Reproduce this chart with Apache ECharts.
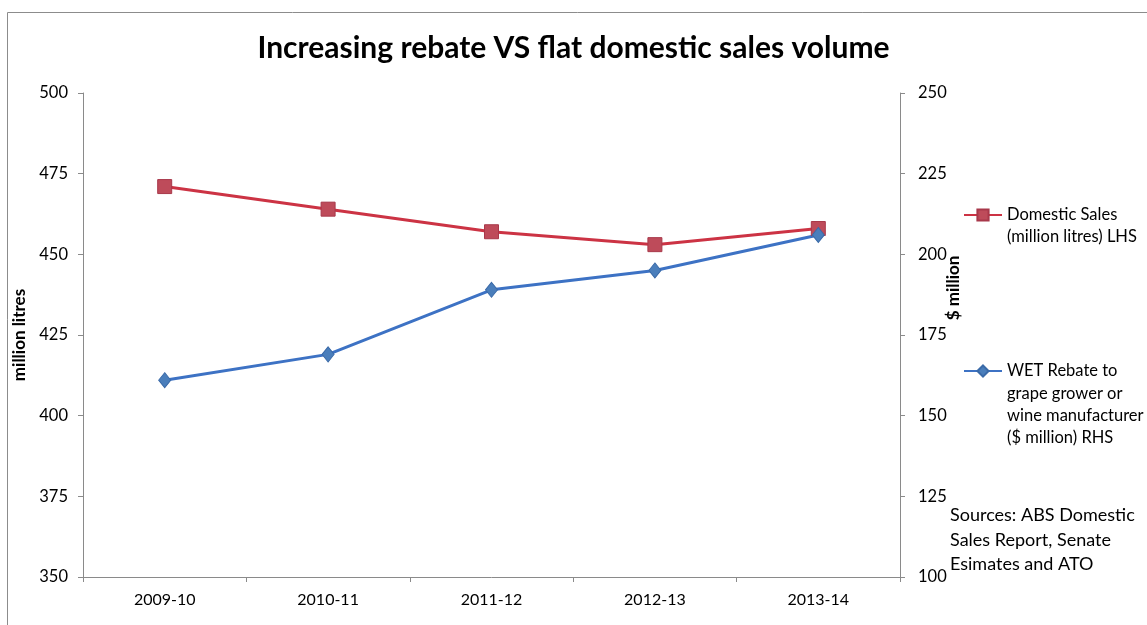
<!DOCTYPE html>
<html>
<head>
<meta charset="utf-8">
<script src="https://cdn.jsdelivr.net/npm/echarts@6/dist/echarts.min.js"></script>
<style>
  html, body { margin: 0; padding: 0; background: #fff; }
  #chart { width: 1147px; height: 625px; }
</style>
</head>
<body>
<div id="chart"></div>
<script>
  // data
  const years = ['2009-10', '2010-11', '2011-12', '2012-13', '2013-14']
  const domesticSales = [471, 464, 457, 453, 458]   // million litres, LHS
  const wetRebate = [161, 169, 189, 195, 206]       // $ million, RHS

  const salesName = 'Domestic Sales (million litres) LHS'
  const rebateName = 'WET Rebate to grape grower or wine manufacturer ($ million) RHS'

  const FONT = 'Lato'
  const axisGray = '#8a8a8a'

  const myChart = echarts.init(document.getElementById('chart'))

  const option = {
    backgroundColor: '#fff',
    animation: false,
    title: {
      text: 'Increasing rebate VS flat domestic sales volume',
      left: 'center',
      top: 28,
      textStyle: {
        fontFamily: FONT,
        fontSize: 30,
        fontWeight: 'bold',
        color: '#000'
      }
    },
    grid: {
      left: 83,
      right: 247,
      top: 93,
      bottom: 48
    },
    legend: [{
      data: [salesName],
      orient: 'vertical',
      left: 958,
      top: 177,
      itemWidth: 38,
      itemHeight: 14,
      formatter: () => '\nDomestic Sales\n(million litres) LHS',
      textStyle: { fontFamily: FONT, fontSize: 16.5, lineHeight: 22, color: '#000' }
    }, {
      data: [rebateName],
      orient: 'vertical',
      left: 958,
      top: 288,
      itemWidth: 38,
      itemHeight: 14,
      formatter: () => '\n\n\nWET Rebate to\ngrape grower or\nwine manufacturer\n($ million) RHS',
      textStyle: { fontFamily: FONT, fontSize: 16.5, lineHeight: 22.3, color: '#000' }
    }],
    xAxis: {
      type: 'category',
      data: years,
      boundaryGap: true,
      axisLine: { lineStyle: { color: axisGray, width: 1 } },
      axisTick: { show: true, length: 5, alignWithLabel: false, lineStyle: { color: axisGray } },
      axisLabel: { fontFamily: FONT, fontSize: 16, color: '#000', margin: 15 }
    },
    yAxis: [{
      type: 'value',
      min: 350,
      max: 500,
      interval: 25,
      name: 'million litres',
      nameLocation: 'middle',
      nameRotate: 90,
      nameGap: 52,
      nameTextStyle: { fontFamily: FONT, fontSize: 17, fontWeight: 'bold', color: '#000' },
      axisLine: { show: true, lineStyle: { color: axisGray } },
      axisTick: { show: true, length: 5, lineStyle: { color: axisGray } },
      axisLabel: { fontFamily: FONT, fontSize: 16.5, color: '#000', margin: 15 },
      splitLine: { show: false }
    }, {
      type: 'value',
      min: 100,
      max: 250,
      interval: 25,
      position: 'right',
      axisLine: { show: true, lineStyle: { color: axisGray } },
      axisTick: { show: true, length: 5, lineStyle: { color: axisGray } },
      axisLabel: { fontFamily: FONT, fontSize: 16.5, color: '#000', margin: 18 },
      splitLine: { show: false }
    }],
    series: [{
      name: salesName,
      type: 'line',
      yAxisIndex: 0,
      data: domesticSales,
      symbol: 'rect',
      symbolSize: 14,
      lineStyle: { color: '#CC3344', width: 3 },
      itemStyle: { color: '#BE4B5A', borderColor: '#A8384A', borderWidth: 1 }
    }, {
      name: rebateName,
      type: 'line',
      yAxisIndex: 1,
      data: wetRebate,
      symbol: 'diamond',
      symbolSize: [12, 15],
      lineStyle: { color: '#3D72C4', width: 3 },
      itemStyle: { color: '#4A7EBB', borderColor: '#3A6AA8', borderWidth: 1 }
    }],
    graphic: [{
      // outer chart frame
      type: 'rect',
      shape: { x: 7.5, y: 12.5, width: 1200, height: 700 },
      style: { fill: 'none', stroke: '#8c8c8c', lineWidth: 1 },
      silent: true
    }, {
      type: 'text',
      x: 954,
      y: 288,
      rotation: Math.PI / 2,
      style: {
        text: '$ million',
        fontFamily: FONT,
        fontSize: 17,
        fontWeight: 'bold',
        fill: '#000',
        align: 'center',
        verticalAlign: 'middle'
      }
    }, {
      type: 'text',
      left: 950,
      top: 503,
      style: {
        text: 'Sources: ABS Domestic\nSales Report, Senate\nEsimates and ATO',
        fontFamily: FONT,
        fontSize: 18,
        lineHeight: 24.5,
        fill: '#000'
      }
    }]
  }

  myChart.setOption(option)
  window.addEventListener('resize', () => myChart.resize())
</script>
</body>
</html>
